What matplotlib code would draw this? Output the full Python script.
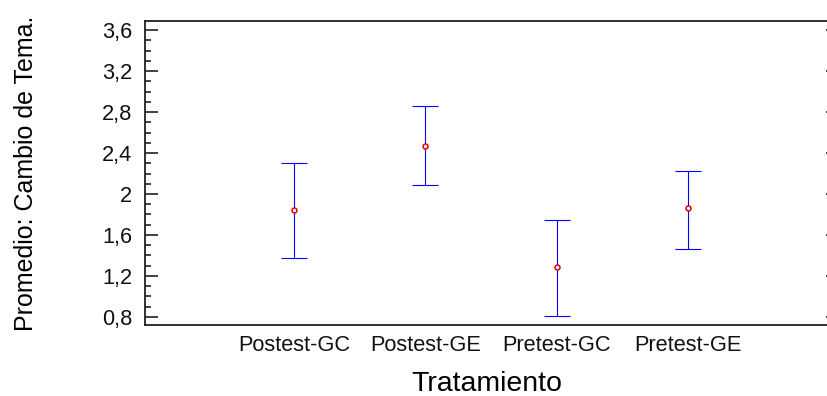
import matplotlib.pyplot as plt
from matplotlib.ticker import MultipleLocator, FuncFormatter

plt.rcParams['font.family'] = ['Liberation Sans', 'DejaVu Sans']

groups = ['Postest-GC', 'Postest-GE', 'Pretest-GC', 'Pretest-GE']
means = [1.844, 2.468, 1.288, 1.863]
lower = [1.376, 2.088, 0.810, 1.463]
upper = [2.300, 2.859, 1.746, 2.224]

x = list(range(1, len(groups) + 1))
err_low = [m - l for m, l in zip(means, lower)]
err_high = [u - m for m, u in zip(means, upper)]

fig = plt.figure(figsize=(8.28, 3.96), dpi=100)
ax = fig.add_axes([145 / 828, 1 - 325 / 396, 684 / 828, 304 / 396])

ax.errorbar(x, means, yerr=[err_low, err_high], fmt='none', ecolor='#0000ff',
            elinewidth=0.8, capsize=9.4, capthick=0.8)
ax.plot(x, means, 'o', markersize=3.6, markerfacecolor='white',
        markeredgecolor='#e00000', markeredgewidth=1.1, zorder=3)

ax.set_xlim(1 - 149 / 131, 4 + 141 / 131)
ax.set_ylim(0.72, 3.69)
ax.set_xticks(x)
ax.set_xticklabels(groups)
ax.yaxis.set_major_locator(MultipleLocator(0.4))
ax.yaxis.set_minor_locator(MultipleLocator(0.1))
ax.yaxis.set_major_formatter(FuncFormatter(lambda v, p: ('%g' % round(v, 1)).replace('.', ',')))

for s in ['left', 'top', 'bottom']:
    ax.spines[s].set_color('#222222')
    ax.spines[s].set_linewidth(1.3)
ax.spines['right'].set_visible(False)

ax.tick_params(axis='x', length=0, labelsize=15.7, pad=7, labelcolor='#111111')
ax.tick_params(axis='y', which='major', direction='in', length=9.5, width=1.3,
               color='#333333', labelsize=15.7, pad=9, right=True, labelcolor='#111111')
ax.tick_params(axis='y', which='minor', direction='in', length=4, width=1.3,
               color='#333333', right=False)
for t in ax.yaxis.get_major_ticks():
    t.tick2line.set_markersize(2.5)

ax.set_xlabel('Tratamiento', fontsize=20.5, labelpad=11)
ax.set_ylabel('Promedio: Cambio de Tema.', fontsize=18, labelpad=46)

fig.savefig('out.png', dpi=100)
